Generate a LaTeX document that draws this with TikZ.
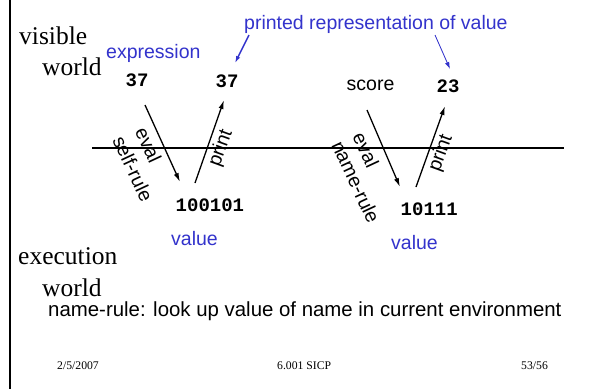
\documentclass[tikz,border=0pt]{standalone}
\usepackage{fontspec}
\setmainfont{Liberation Serif}
\setsansfont{Liberation Sans}
\setmonofont{Liberation Mono}
\usetikzlibrary{arrows.meta}
\definecolor{lblue}{RGB}{51,51,204}
\begin{document}
\begin{tikzpicture}[x=1pt,y=-1pt,
  bigserif/.style={font=\fontsize{25.5}{30}\selectfont, inner sep=0pt, anchor=base west},
  lab/.style={font=\sffamily\fontsize{19.5}{23}\selectfont, inner sep=0pt},
  bluelab/.style={lab, text=lblue, anchor=base west},
  monotext/.style={font=\ttfamily\bfseries\fontsize{19}{22}\selectfont, inner sep=0pt, anchor=base west},
  foot/.style={font=\fontsize{11.7}{14}\selectfont, inner sep=0pt, anchor=base west},
  arr/.style={-{Latex[length=9pt,width=5pt]}, line width=1.3pt},
  barr/.style={-{Latex[length=7pt,width=4.5pt]}, draw=lblue, fill=lblue}
]
\fill[white] (0,0) rectangle (593,389);
\useasboundingbox (0,0) rectangle (593,389);

% frame line
\coordinate (vtop) at (10,0);
\coordinate (vbot) at (10,389);
\draw[line width=2.5pt] (vtop) -- (vbot);

% world labels
\node[bigserif] (visible) at (19,44) {visible};
\node[bigserif] (world1) at (42,75) {world};
\node[bigserif] (execution) at (18,264) {execution};
\node[bigserif] (world2) at (42,296) {world};

% blue labels
\node[bluelab] (expression) at (106,58) {expression};
\node[bluelab] (printed) at (244,29) {printed representation of value};
\node[bluelab] (value1) at (171,245) {value};
\node[bluelab] (value2) at (391,249) {value};

% expressions and values
\node[monotext] (n37a) at (125.5,86) {37};
\node[monotext] (n37b) at (215.5,87) {37};
\node[lab, anchor=base west] (score) at (346.5,90) {score};
\node[monotext] (n23) at (436.5,92) {23};
\node[monotext] (bin1) at (175.5,211) {100101};
\node[monotext] (bin2) at (400.5,215) {10111};

% horizontal divider
\coordinate (hl) at (92,148);
\coordinate (hr) at (564,148);
\draw[line width=1.3pt] (hl) -- (hr);

% arrows
\coordinate (e1s) at (145,105);
\coordinate (e1e) at (180,182);
\coordinate (p1s) at (195,183);
\coordinate (p1e) at (224,100);
\coordinate (e2s) at (367,110);
\coordinate (e2e) at (400,187);
\coordinate (p2s) at (416,187);
\coordinate (p2e) at (445,106);
\draw[arr] (e1s) -- (e1e);
\draw[arr] (p1s) -- (p1e);
\draw[arr] (e2s) -- (e2e);
\draw[arr] (p2s) -- (p2e);

% blue pointer arrows
\coordinate (b1s) at (249,35);
\coordinate (b1e) at (235,63);
\coordinate (b2s) at (435,35);
\coordinate (b2e) at (450,69);
\draw[barr, line width=1.4pt] (b1s) -- (b1e);
\draw[barr, line width=0.8pt] (b2s) -- (b2e);

% rotated labels
\node[lab, rotate=-65] (eval1) at (148.5,145) {eval};
\node[lab, rotate=-65] (selfrule) at (133,168.5) {self-rule};
\node[lab, rotate=70] (print1) at (221,148) {print};
\node[lab, rotate=-65] (eval2) at (366,150) {eval};
\node[lab, rotate=-65] (namerule) at (356,182) {name-rule};
\node[lab, rotate=70] (print2) at (441,153) {print};

% explanation
\node[lab, anchor=base west, font=\sffamily\fontsize{20.4}{24}\selectfont] (expl) at (48,316) {name-rule: look up value of name in current environment};

% footer
\node[foot] (date) at (57,369) {2/5/2007};
\node[foot] (course) at (277,369) {6.001 SICP};
\node[foot] (page) at (521,369) {53/56};
\end{tikzpicture}
\end{document}
